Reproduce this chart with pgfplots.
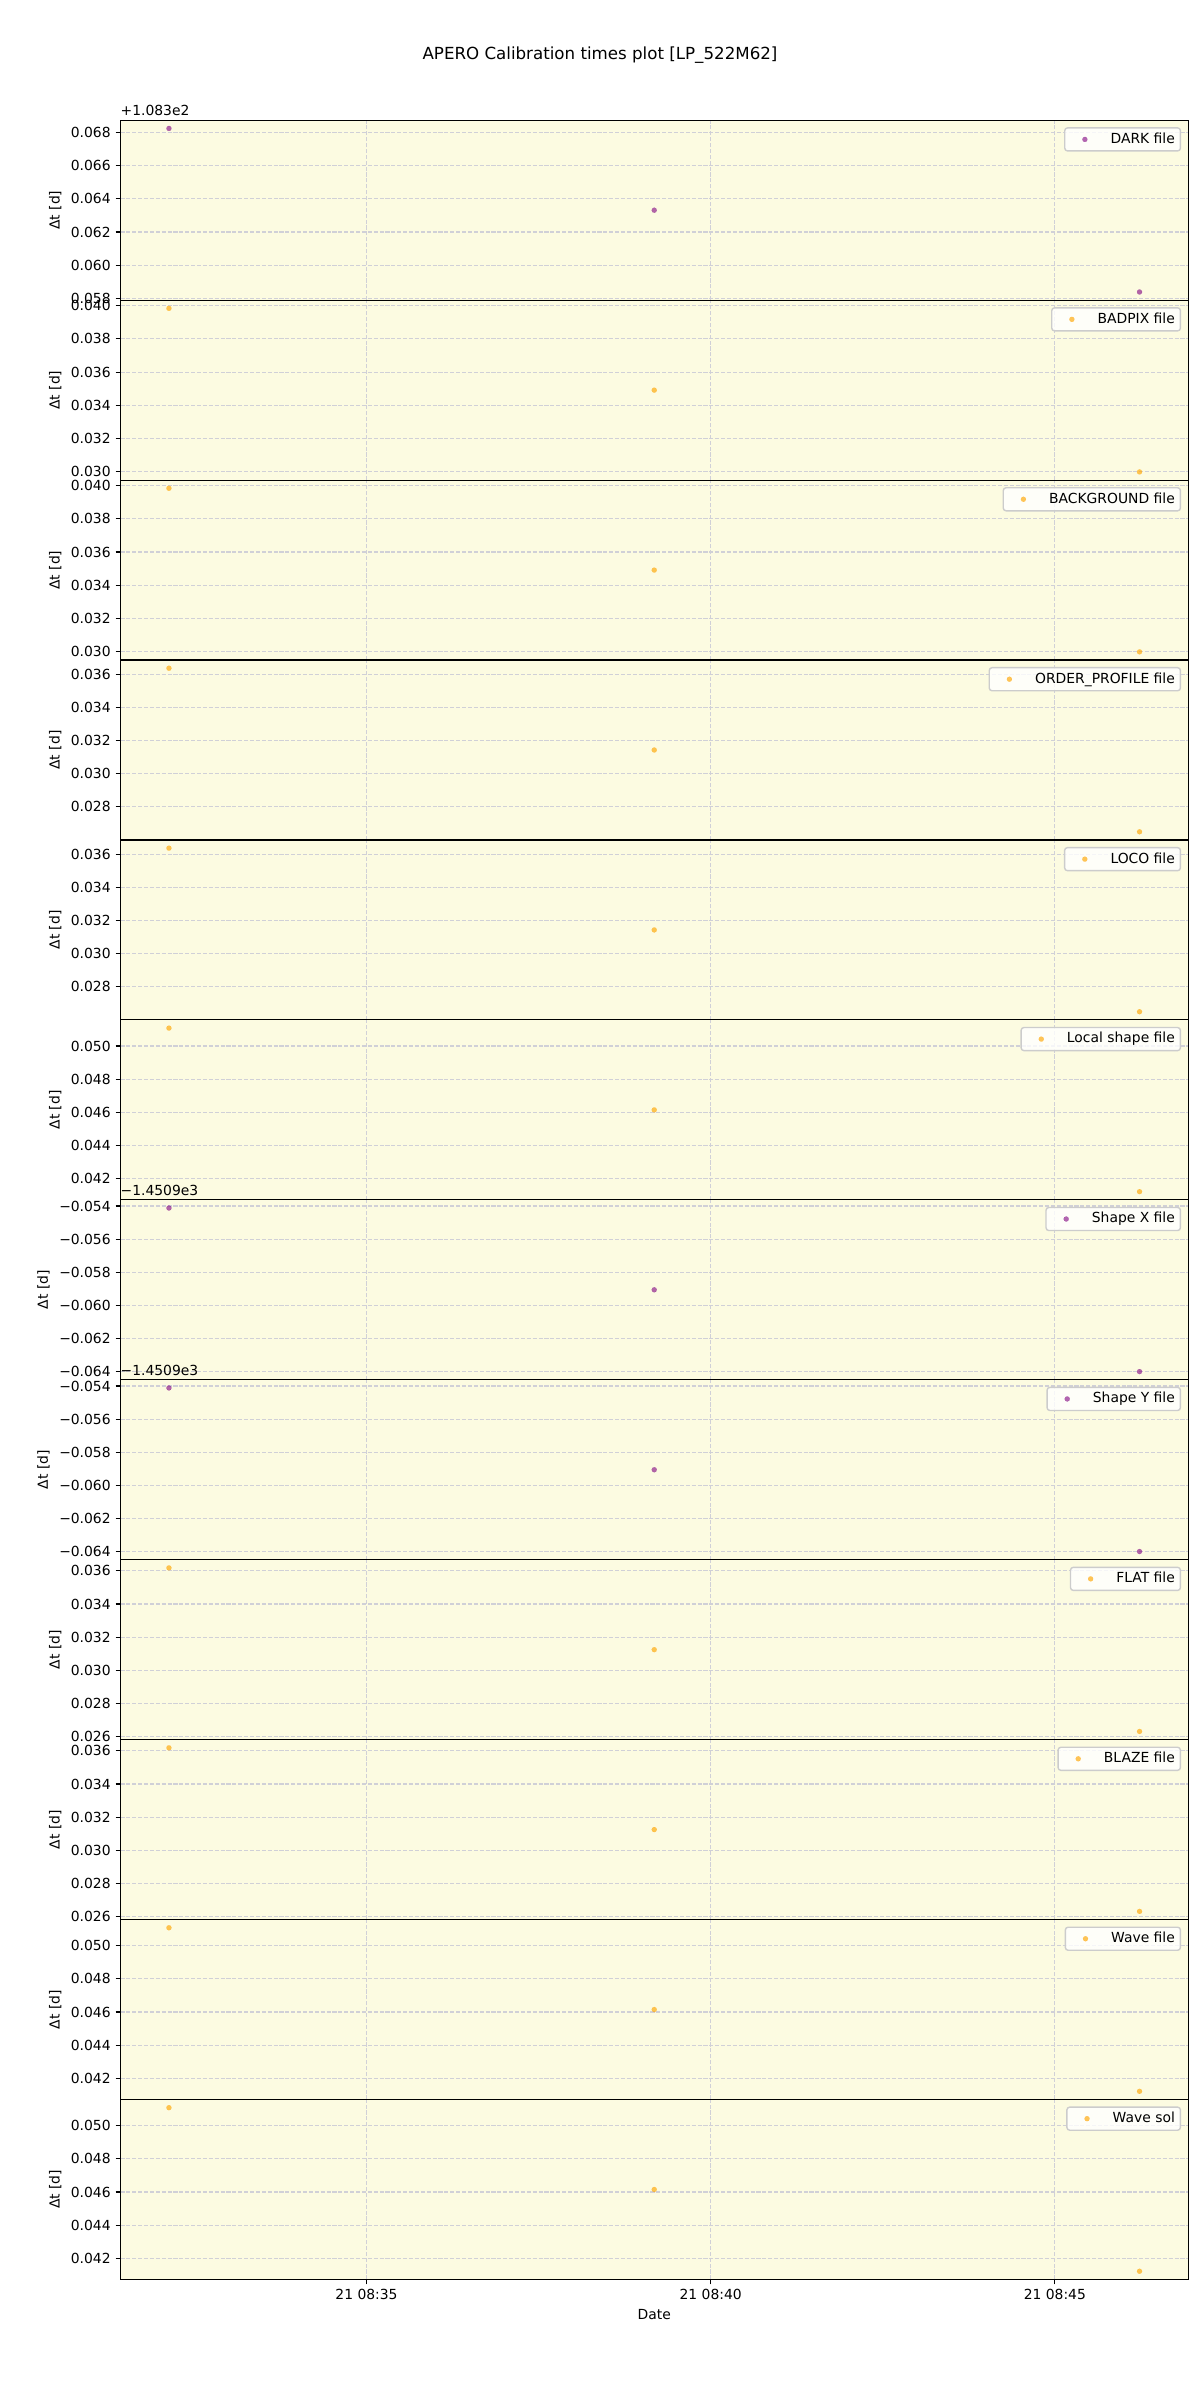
\documentclass[border=0pt]{standalone}
\usepackage{pgfplots}
\pgfplotsset{compat=1.18}
\usepackage{fontspec}
\setmainfont{DejaVu Sans}
\definecolor{bgc}{RGB}{252,251,225}
\definecolor{gridc}{RGB}{208,208,215}
\definecolor{orng}{RGB}{255,165,0}
\definecolor{purp}{RGB}{128,0,128}
\definecolor{legedge}{RGB}{204,204,204}
\newcommand{\tf}{\fontsize{10bp}{12bp}\selectfont}
\pgfplotsset{
 panel/.style={
  scale only axis, width=768.7bp, height=129.55bp,
  anchor=north west,
  xmin=1.425, xmax=16.935,
  enlarge y limits=0.05,
  scaled y ticks=false, scaled x ticks=false,
  axis background/.style={fill=bgc},
  axis line style={line width=0.8bp},
  xtick={5,10,15}, xticklabels={},
  tick align=outside, tick pos=left,
  major tick length=3.5bp,
  every tick/.style={black, line width=0.8bp},
  grid=major,
  major grid style={gridc, dash pattern=on 2.96bp off 1.28bp, line width=0.8bp},
  ylabel={Δt [d]},
  tick label style={font=\tf},
  label style={font=\tf},
  legend style={at={(rel axis cs:1,1)}, anchor=north east, xshift=-5bp, yshift=-5bp,
    draw=legedge, line width=1bp, rounded corners=2bp, fill=white, fill opacity=0.8, text opacity=1,
    inner xsep=4bp, inner ysep=3.5bp, column sep=8bp,
    nodes={inner sep=0pt, text height=7.6bp, text depth=2bp}, font=\tf},
  legend cell align=left,
  legend image code/.code={\path (0bp,0bp) (20bp,0bp); \draw[##1] plot coordinates {(10bp,0bp)};},
  clip=false,
 },
 op/.style={only marks, mark=*, color=orng, mark size=1.85bp, mark options={draw=orng, fill=orng, line width=0.01bp, opacity=0.65}},
 pp/.style={only marks, mark=*, color=purp, mark size=1.85bp, mark options={draw=purp, fill=purp, line width=0.01bp, opacity=0.6}},
}
\begin{document}
\begin{tikzpicture}
\useasboundingbox (0,0) rectangle (864bp,1728bp);
\node[font=\fontsize{12bp}{14bp}\selectfont] at (432bp,1688.4bp) {APERO Calibration times plot [LP\_522M62]};

% 1 DARK
\begin{axis}[panel, at={(86.7bp,1641.40bp)},
 ytick={0.058,0.060,0.062,0.064,0.066,0.068},
 yticklabels={0.058,0.060,0.062,0.064,0.066,0.068}]
\addplot[pp] coordinates {(2.13,0.06824) (9.18,0.06331) (16.23,0.05838)};
\addlegendentry{DARK file}
\node[anchor=base west, inner sep=0pt, font=\tf] at ([yshift=3.3bp]rel axis cs:0,1) {+1.083e2};
\end{axis}

% 2 BADPIX
\begin{axis}[panel, at={(86.7bp,1511.85bp)},
 ytick={0.030,0.032,0.034,0.036,0.038,0.040},
 yticklabels={0.030,0.032,0.034,0.036,0.038,0.040}]
\addplot[op] coordinates {(2.13,0.03984) (9.18,0.03491) (16.23,0.02998)};
\addlegendentry{BADPIX file}
\end{axis}

% 3 BACKGROUND
\begin{axis}[panel, at={(86.7bp,1382.30bp)},
 ytick={0.030,0.032,0.034,0.036,0.038,0.040},
 yticklabels={0.030,0.032,0.034,0.036,0.038,0.040}]
\addplot[op] coordinates {(2.13,0.03984) (9.18,0.03491) (16.23,0.02998)};
\addlegendentry{BACKGROUND file}
\end{axis}

% 4 ORDER_PROFILE
\begin{axis}[panel, at={(86.7bp,1252.75bp)},
 ytick={0.028,0.030,0.032,0.034,0.036},
 yticklabels={0.028,0.030,0.032,0.034,0.036}]
\addplot[op] coordinates {(2.13,0.03636) (9.18,0.03143) (16.23,0.02650)};
\addlegendentry{ORDER\_PROFILE file}
\end{axis}

% 5 LOCO
\begin{axis}[panel, at={(86.7bp,1123.20bp)},
 ytick={0.028,0.030,0.032,0.034,0.036},
 yticklabels={0.028,0.030,0.032,0.034,0.036}]
\addplot[op] coordinates {(2.13,0.03636) (9.18,0.03143) (16.23,0.02650)};
\addlegendentry{LOCO file}
\end{axis}

% 6 Local shape
\begin{axis}[panel, at={(86.7bp,993.65bp)},
 ytick={0.042,0.044,0.046,0.048,0.050},
 yticklabels={0.042,0.044,0.046,0.048,0.050}]
\addplot[op] coordinates {(2.13,0.05108) (9.18,0.04615) (16.23,0.04122)};
\addlegendentry{Local shape file}
\end{axis}

% 7 Shape X
\begin{axis}[panel, at={(86.7bp,864.10bp)},
 ytick={-0.064,-0.062,-0.060,-0.058,-0.056,-0.054},
 yticklabels={−0.064,−0.062,−0.060,−0.058,−0.056,−0.054}]
\addplot[pp] coordinates {(2.13,-0.05412) (9.18,-0.05905) (16.23,-0.06398)};
\addlegendentry{Shape X file}
\node[anchor=base west, inner sep=0pt, font=\tf] at ([yshift=3.3bp]rel axis cs:0,1) {−1.4509e3};
\end{axis}

% 8 Shape Y
\begin{axis}[panel, at={(86.7bp,734.55bp)},
 ytick={-0.064,-0.062,-0.060,-0.058,-0.056,-0.054},
 yticklabels={−0.064,−0.062,−0.060,−0.058,−0.056,−0.054}]
\addplot[pp] coordinates {(2.13,-0.05412) (9.18,-0.05905) (16.23,-0.06398)};
\addlegendentry{Shape Y file}
\node[anchor=base west, inner sep=0pt, font=\tf] at ([yshift=3.3bp]rel axis cs:0,1) {−1.4509e3};
\end{axis}

% 9 FLAT
\begin{axis}[panel, at={(86.7bp,605.00bp)},
 ytick={0.026,0.028,0.030,0.032,0.034,0.036},
 yticklabels={0.026,0.028,0.030,0.032,0.034,0.036}]
\addplot[op] coordinates {(2.13,0.03618) (9.18,0.03125) (16.23,0.02632)};
\addlegendentry{FLAT file}
\end{axis}

% 10 BLAZE
\begin{axis}[panel, at={(86.7bp,475.45bp)},
 ytick={0.026,0.028,0.030,0.032,0.034,0.036},
 yticklabels={0.026,0.028,0.030,0.032,0.034,0.036}]
\addplot[op] coordinates {(2.13,0.03618) (9.18,0.03125) (16.23,0.02632)};
\addlegendentry{BLAZE file}
\end{axis}

% 11 Wave file
\begin{axis}[panel, at={(86.7bp,345.90bp)},
 ytick={0.042,0.044,0.046,0.048,0.050},
 yticklabels={0.042,0.044,0.046,0.048,0.050}]
\addplot[op] coordinates {(2.13,0.05108) (9.18,0.04615) (16.23,0.04122)};
\addlegendentry{Wave file}
\end{axis}

% 12 Wave sol
\begin{axis}[panel, at={(86.7bp,216.35bp)},
 ytick={0.042,0.044,0.046,0.048,0.050},
 yticklabels={0.042,0.044,0.046,0.048,0.050},
 xticklabels={21 08:35,21 08:40,21 08:45},
 xlabel={Date}]
\addplot[op] coordinates {(2.13,0.05108) (9.18,0.04615) (16.23,0.04122)};
\addlegendentry{Wave sol}
\end{axis}
\end{tikzpicture}
\end{document}
